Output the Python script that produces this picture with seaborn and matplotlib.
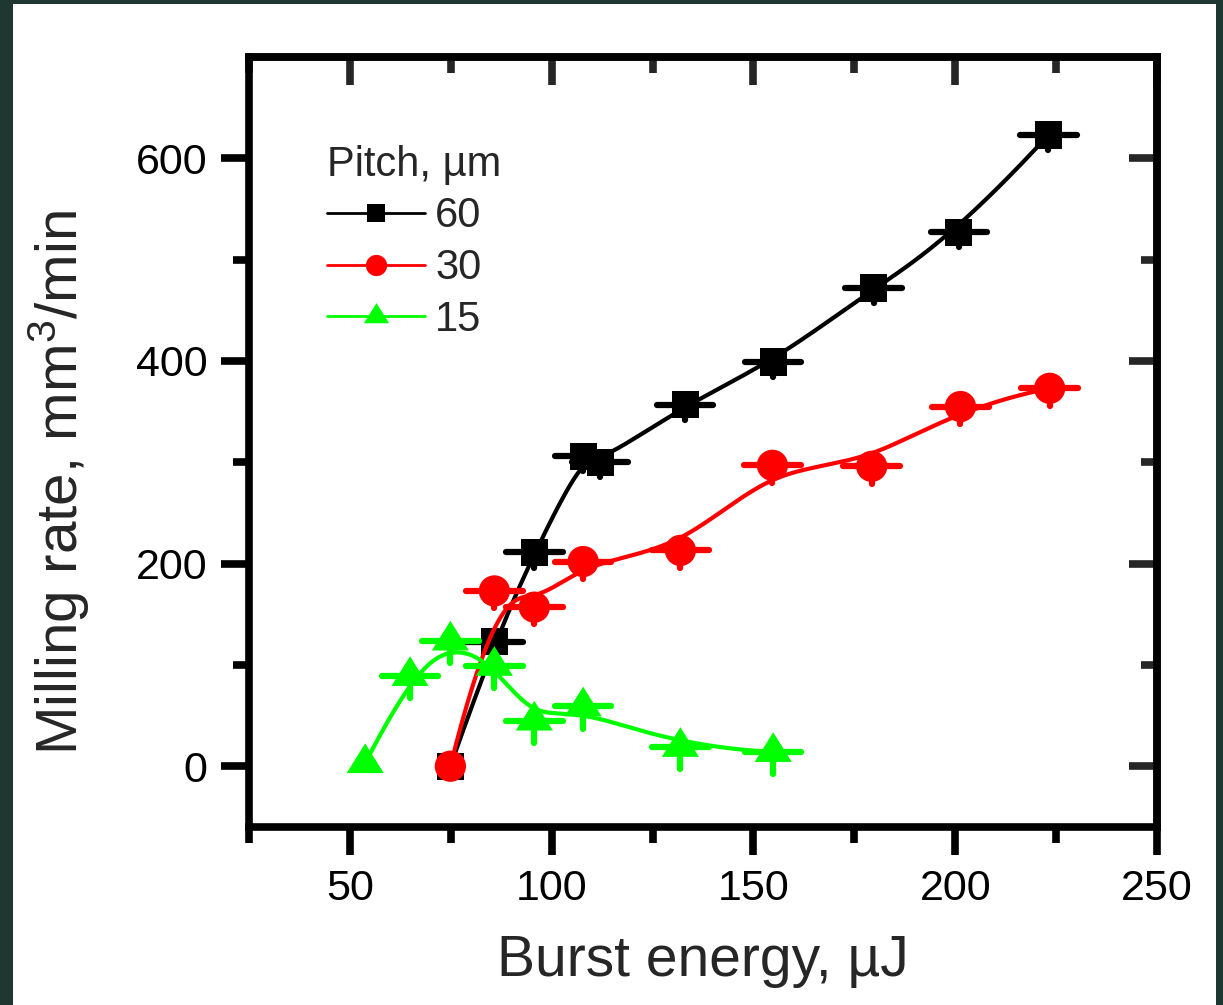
import numpy as np
import pandas as pd
import matplotlib
matplotlib.use("Agg")
import matplotlib.pyplot as plt
import seaborn as sns
from matplotlib.lines import Line2D
from matplotlib.patches import Rectangle

# ---- data: milling rate vs burst energy for three pitches ----
energy_60 = [74.9, 85.8, 95.7, 107.8, 112.0, 133.1, 154.9, 179.8, 200.9, 223.1]
rate_60 = [0, 123, 211, 306, 300, 357, 399, 472, 527, 623]
xerr_60 = [0, 7, 7, 7, 7, 7, 7, 7, 7, 7]
yerr_60 = [0, 15, 15, 15, 15, 15, 15, 15, 15, 15]

energy_30 = [74.9, 85.8, 95.7, 107.8, 131.9, 154.7, 179.3, 201.3, 223.4]
rate_30 = [0, 173, 157, 202, 213, 297, 296, 355, 373]
xerr_30 = [0, 7, 7, 7, 7, 7, 7, 7, 7]
yerr_30 = [0, 17, 17, 17, 17, 17, 17, 17, 17]

energy_15 = [53.8, 64.9, 74.9, 85.8, 95.7, 107.8, 131.9, 154.9]
rate_15 = [3, 89, 124, 99, 45, 59, 19, 14]
xerr_15 = [0, 7, 7, 7, 7, 7, 7, 7]
yerr_15 = [0, 22, 22, 22, 22, 22, 22, 22]

pitch_labels = ["60", "30", "15"]
x_major = [50, 100, 150, 200, 250]
x_minor = [25, 75, 125, 175, 225]
y_major = [0, 200, 400, 600]
y_minor = [100, 300, 500]


def clamped_bspline(x, y, degree=3, num=400):
    """Clamped uniform B-spline using the points as control polygon."""
    pts = np.column_stack([x, y]).astype(float)
    n = len(pts)
    p = min(degree, n - 1)
    knots = np.concatenate([np.zeros(p), np.linspace(0, 1, n - p + 1), np.ones(p)])
    u = np.linspace(0, 1, num)
    N = np.zeros((num, len(knots) - 1))
    for i in range(len(knots) - 1):
        N[:, i] = (u >= knots[i]) & (u < knots[i + 1])
    last = np.where(knots[:-1] < knots[1:])[0][-1]
    N[-1, :] = 0
    N[-1, last] = 1
    for d in range(1, p + 1):
        Nn = np.zeros((num, len(knots) - 1 - d))
        for i in range(len(knots) - 1 - d):
            a = knots[i + d] - knots[i]
            b = knots[i + d + 1] - knots[i + 1]
            term = np.zeros(num)
            if a > 0:
                term += (u - knots[i]) / a * N[:, i]
            if b > 0:
                term += (knots[i + d + 1] - u) / b * N[:, i + 1]
            Nn[:, i] = term
        N = Nn
    c = N @ pts
    return c[:, 0], c[:, 1]


sns.set_style("ticks")
plt.rcParams["font.family"] = ["Liberation Sans", "DejaVu Sans"]
plt.rcParams["mathtext.fontset"] = "custom"
plt.rcParams["mathtext.rm"] = "Liberation Sans"
plt.rcParams["mathtext.it"] = "Liberation Sans:italic"
plt.rcParams["mathtext.bf"] = "Liberation Sans:bold"

W, H = 1223, 1005
fig = plt.figure(figsize=(W / 100, H / 100), dpi=100)
fig.patch.set_facecolor("#1e3730")
fig.patches.append(Rectangle((13 / W, 0), (1216 - 13) / W, (H - 4) / H,
                             transform=fig.transFigure, facecolor="white",
                             edgecolor="none", zorder=-10))

ax = fig.add_axes([249 / W, (H - 827) / H, (1157 - 249) / W, (827 - 57) / H])
ax.set_facecolor("white")

# triangle marker, centred on its centroid, a bit wider than tall
tri = [(0, 0.533), (-0.5, -0.267), (0.5, -0.267), (0, 0.533)]

series = [
    (energy_60, rate_60, xerr_60, yerr_60, "#000000", "s", 19.5, 3),
    (energy_30, rate_30, xerr_30, yerr_30, "#ff0000", "o", 22.5, 4),
    (energy_15, rate_15, xerr_15, yerr_15, "#00ff00", tri, 28.5, 5),
]

for x, y, xe, ye, col, mk, ms, z in series:
    cx, cy = clamped_bspline(x, y)
    curve = pd.DataFrame({"energy": cx, "rate": cy})
    sns.lineplot(data=curve, x="energy", y="rate", sort=False, estimator=None,
                 color=col, lw=3.0, ax=ax, zorder=z)
    # vertical bars drawn on the minus side only
    eb = ax.errorbar(x, y, xerr=xe, yerr=[ye, np.zeros(len(ye))], fmt="none",
                     ecolor=col, elinewidth=4.5, capsize=0, zorder=z + 0.1)
    for lc in eb.lines[2]:
        lc.set_capstyle("round")
    pts = pd.DataFrame({"energy": x, "rate": y})
    sns.scatterplot(data=pts, x="energy", y="rate", marker=mk, s=ms ** 2,
                    color=col, edgecolor="none", linewidth=0, ax=ax,
                    zorder=z + 0.2)

ax.set_xlim(25, 250)
ax.set_ylim(-60, 700)
ax.set_xticks(x_major)
ax.set_xticks(x_minor, minor=True)
ax.set_yticks(y_major)
ax.set_yticks(y_minor, minor=True)

spine_w = 5.5
for s in ax.spines.values():
    s.set_visible(True)
    s.set_linewidth(spine_w)
    s.set_color("black")

ax.tick_params(which="major", direction="out", length=20, width=spine_w,
               labelsize=31, pad=10, color="black", labelcolor="black")
ax.tick_params(which="minor", direction="out", length=11.5, width=spine_w,
               color="black")

top = ax.secondary_xaxis("top")
top.set_xticks(x_major)
top.set_xticks(x_minor, minor=True)
top.tick_params(which="major", direction="in", length=20, width=spine_w, labeltop=False)
top.tick_params(which="minor", direction="in", length=11.5, width=spine_w)
top.spines["top"].set_linewidth(spine_w)

right = ax.secondary_yaxis("right")
right.set_yticks(y_major)
right.set_yticks(y_minor, minor=True)
right.tick_params(which="major", direction="in", length=20, width=spine_w, labelright=False)
right.tick_params(which="minor", direction="in", length=11.5, width=spine_w)
right.spines["right"].set_linewidth(spine_w)

ax.set_xlabel("Burst energy, µJ", fontsize=41, labelpad=18)
ax.set_ylabel("Milling rate, mm$^{3}$/min", fontsize=42)
ax.yaxis.set_label_coords(-0.173, 0.448)

handles = []
for (x, y, xe, ye, col, mk, ms, z), lab in zip(series, pitch_labels):
    handles.append(Line2D([], [], color=col, lw=2, marker=mk,
                          markersize=ms * 0.68, markeredgewidth=0))
leg = ax.legend(handles, pitch_labels, title="Pitch, µm", loc="upper left",
                bbox_to_anchor=(0.086, 0.886), frameon=False, fontsize=30,
                title_fontsize=30, handlelength=2.35, handletextpad=0.24,
                labelspacing=0.28, borderaxespad=0, borderpad=0)
leg._legend_box.align = "left"

fig.savefig("out.png", dpi=100, facecolor=fig.get_facecolor())
